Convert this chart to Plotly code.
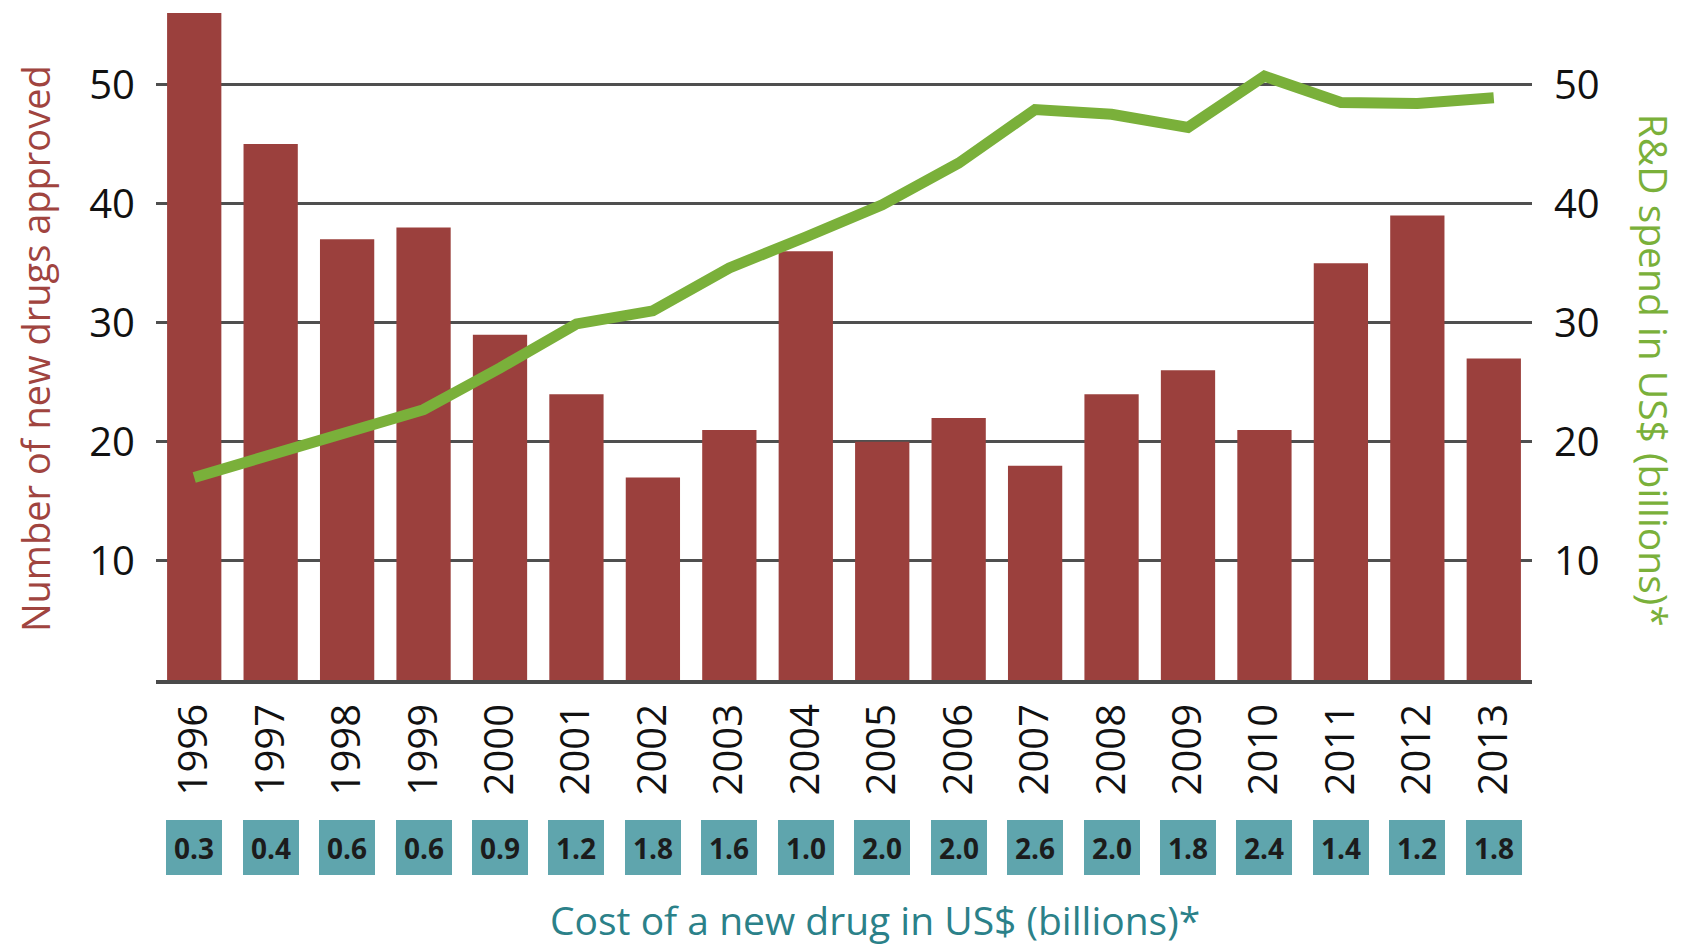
import plotly.graph_objects as go

years = ["1996", "1997", "1998", "1999", "2000", "2001", "2002", "2003", "2004",
         "2005", "2006", "2007", "2008", "2009", "2010", "2011", "2012", "2013"]
drugs_approved = [56, 45, 37, 38, 29, 24, 17, 21, 36, 20, 22, 18, 24, 26, 21, 35, 39, 27]
rd_spend = [17.0, 18.9, 20.9, 22.7, 26.2, 29.9, 31.0, 34.6, 37.2, 39.9, 43.4,
            47.9, 47.5, 46.4, 50.7, 48.5, 48.4, 48.9]
cost_per_drug = ["0.3", "0.4", "0.6", "0.6", "0.9", "1.2", "1.8", "1.6", "1.0",
                 "2.0", "2.0", "2.6", "2.0", "1.8", "2.4", "1.4", "1.2", "1.8"]
tick_vals = [10, 20, 30, 40, 50]

BAR = "#9b403d"
GREEN = "#7ab03a"
TEAL_BOX = "#5fa5ad"
TEAL_TEXT = "#2b8189"
FONT = "Open Sans"

fig = go.Figure()
fig.add_trace(go.Bar(x=years, y=drugs_approved, marker=dict(color=BAR, line=dict(width=0)),
                     yaxis="y", showlegend=False))
fig.add_trace(go.Scatter(x=years, y=rd_spend, mode="lines",
                         line=dict(color=GREEN, width=11), yaxis="y2", showlegend=False))

Y_RANGE = [0, 56.26]

annotations = []
for i, c in enumerate(cost_per_drug):
    annotations.append(dict(
        x=i, xref="x", y=-0.25, yref="paper", text=c, showarrow=False,
        xanchor="center", yanchor="middle", width=56, height=55,
        bgcolor=TEAL_BOX, borderpad=0, borderwidth=0,
        font=dict(family=FONT, size=28, color="#1c1c1c", weight="bold"),
    ))

annotations.append(dict(
    x=-0.0879, xref="paper", y=0.494, yref="paper", text="Number of new drugs approved",
    textangle=-90, showarrow=False, xanchor="center", yanchor="middle",
    font=dict(family=FONT, size=38, color="#a0443f")))
annotations.append(dict(
    x=1.0887, xref="paper", y=0.463, yref="paper", text="R&D spend in US$ (billions)*",
    textangle=90, showarrow=False, xanchor="center", yanchor="middle",
    font=dict(family=FONT, size=39, color=GREEN)))
annotations.append(dict(
    x=0.5225, xref="paper", y=-0.358, yref="paper", text="Cost of a new drug in US$ (billions)*",
    showarrow=False, xanchor="center", yanchor="middle",
    font=dict(family=FONT, size=39, color=TEAL_TEXT)))

fig.update_layout(
    width=1674, height=937,
    margin=dict(l=148, r=150, t=2, b=265),
    paper_bgcolor="white", plot_bgcolor="white",
    bargap=0.29,
    xaxis=dict(type="category", range=[-0.5, 17.5], tickangle=-90,
               tickfont=dict(family=FONT, size=40, color="#111111"),
               showline=True, linecolor="#4a4a4a", linewidth=4,
               showgrid=False, ticks="", ticklabelstandoff=4),
    yaxis=dict(range=Y_RANGE, tickvals=tick_vals, showgrid=True,
               gridcolor="#4f4f4f", gridwidth=3, zeroline=False,
               tickfont=dict(family=FONT, size=40, color="#111111"),
               ticks="", ticklabelstandoff=20, showline=False),
    yaxis2=dict(range=Y_RANGE, tickvals=tick_vals, overlaying="y", side="right",
                showgrid=False, zeroline=False,
                tickfont=dict(family=FONT, size=40, color="#111111"),
                ticks="", ticklabelstandoff=21, showline=False),
    annotations=annotations,
)

fig.write_html("out.html")
